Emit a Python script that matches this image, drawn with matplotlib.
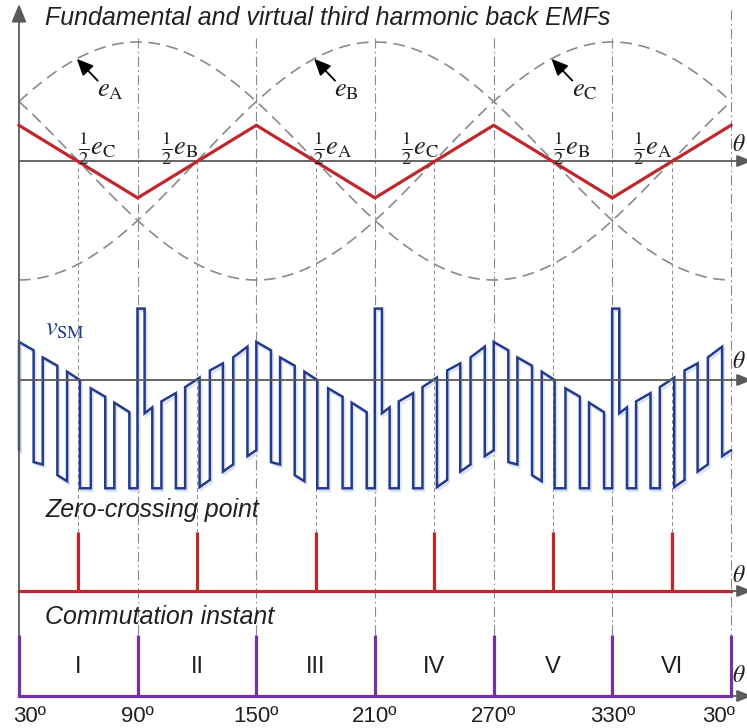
import numpy as np
import matplotlib
matplotlib.use('Agg')
import matplotlib.pyplot as plt
import matplotlib.patheffects as pe

plt.rcParams['mathtext.fontset'] = 'stix'
plt.rcParams['font.family'] = ['Liberation Sans', 'DejaVu Sans']

# ---------------- data ----------------
angle_ticks = [30, 90, 150, 210, 270, 330, 390]
angle_tick_labels = ['30º', '90º', '150º', '210º', '270º', '330º', '30º']
sector_centers = [60, 120, 180, 240, 300, 360]
sector_labels = ['I', 'II', 'III', 'IV', 'V', 'VI']
zero_crossings = [60, 120, 180, 240, 300, 360]
commutation_angles = [30, 90, 150, 210, 270, 330, 390]

emf_names = ['A', 'B', 'C']
emf_phase = [0, 120, 240]          # electrical degrees
emf_amplitude = 1.0

third_angles = [30, 90, 150, 210, 270, 330, 390]
third_values = [0.30, -0.31, 0.30, -0.31, 0.30, -0.31, 0.30]

half_label_angles = [69.4, 111.4, 188.8, 232.8, 309.6, 350.6]
half_label_phase = ['C', 'B', 'A', 'C', 'B', 'A']

emf_label_angles = [69.5, 189.5, 309.5]
emf_label_values = [0.54, 0.54, 0.54]
emf_arrow_tip = [59.2, 179.2, 299.2]
emf_arrow_tail = [69.8, 189.8, 309.8]
emf_arrow_tail_values = [0.675, 0.675, 0.675]

# v_SM : one 120-degree period (angle from period start, value)
vsm_period_angle = [0, 0, 7.4, 7.4, 12.0, 12.0, 19.4, 19.4, 24.3, 24.3,
                    30.8, 30.8, 36.3, 36.3, 43.6, 43.6, 48.2, 48.2, 55.8, 55.8,
                    59.9, 59.9, 63.5, 63.5, 67.4, 67.4, 72.0, 72.0, 79.3, 79.3,
                    84.0, 84.0, 91.3, 91.3, 96.5, 96.5, 103.1, 103.1, 108.3, 108.3,
                    115.5, 115.5, 120.0]
vsm_period_value = [-0.59, 0.32, 0.25, -0.69, -0.71, 0.19, 0.12, -0.80, -0.85, 0.07,
                    0.00, -0.91, -0.91, -0.07, -0.14, -0.91, -0.91, -0.19, -0.27, -0.91,
                    -0.91, 0.60, 0.60, -0.28, -0.23, -0.91, -0.91, -0.18, -0.11, -0.91,
                    -0.91, -0.06, 0.02, -0.90, -0.84, 0.08, 0.14, -0.77, -0.71, 0.19,
                    0.28, -0.64, -0.59]
vsm_period_start = [30, 150, 270]

pulse_height = 0.50      # zero-crossing pulse
comm_height = 0.51       # commutation pulse

# ---------------- layout ----------------
W, H = 747, 728
fig = plt.figure(figsize=(W / 100, H / 100), dpi=100)
ax = fig.add_axes([0, 0, 1, 1])
X0 = 19
PX_PER_DEG = (731 - 19) / 360


def deg(px):
    return 30 + (px - X0) / PX_PER_DEG


ax.set_xlim(deg(0), deg(W))
ax.set_ylim(H, 0)
ax.axis('off')

SCALE = 119
TOP, MID, ZC, COM = 161, 380, 591, 696


def Y(v, base):
    return base - np.asarray(v, dtype=float) * SCALE


AXIS_GRAY = '#5a5a5a'
REF_GRAY = '#8a8a8a'
RED = '#c0272d'
BLUE = '#243a8d'
PURPLE = '#7232a3'
TXT = '#231f20'


def h_arrow(base):
    ax.annotate('', xy=(deg(752), base), xytext=(30, base),
                arrowprops=dict(arrowstyle='-|>,head_length=0.9,head_width=0.36',
                                mutation_scale=10, color=AXIS_GRAY, lw=1.3,
                                shrinkA=0, shrinkB=0),
                annotation_clip=False, zorder=4)


# vertical axis
ax.annotate('', xy=(30, 4), xytext=(30, COM),
            arrowprops=dict(arrowstyle='-|>,head_length=1.1,head_width=0.45',
                            mutation_scale=10, color=AXIS_GRAY, lw=1.3,
                            shrinkA=0, shrinkB=0),
            annotation_clip=False, zorder=4)

for base in (TOP, MID, ZC, COM):
    h_arrow(base)

# reference lines
for a in commutation_angles[1:]:
    y_start = 10 if a == commutation_angles[-1] else 38
    ax.plot([a, a], [y_start, COM - comm_height * SCALE], color=REF_GRAY, lw=0.8,
            ls=(0, (9, 3, 1.5, 3)), zorder=1)
for a in zero_crossings:
    ax.plot([a, a], [TOP, ZC - pulse_height * SCALE], color=REF_GRAY, lw=0.7,
            ls=(0, (4, 3)), zorder=1)

# ---------------- top panel ----------------
th = np.linspace(30, 390, 1441)
for ph in emf_phase:
    ax.plot(th, Y(emf_amplitude * np.sin(np.radians(th - ph)), TOP),
            color=REF_GRAY, lw=1.2, ls=(0, (7, 4)), zorder=2)

ax.plot(third_angles, Y(third_values, TOP), color=RED, lw=2.3, zorder=5,
        solid_joinstyle='miter')

for name, la, lv, tip, tail, tv in zip(emf_names, emf_label_angles, emf_label_values,
                                      emf_arrow_tip, emf_arrow_tail, emf_arrow_tail_values):
    ph = emf_phase[emf_names.index(name)]
    tip_v = emf_amplitude * np.sin(np.radians(tip - ph))
    ax.annotate('', xy=(tip, Y(tip_v, TOP)), xytext=(tail, Y(tv, TOP)),
                arrowprops=dict(arrowstyle='-|>,head_length=1.0,head_width=0.45',
                                mutation_scale=10, color='black', lw=1.3,
                                shrinkA=0, shrinkB=0), zorder=6)
    ax.text(la, Y(lv, TOP), r'$e_{\mathrm{%s}}$' % name, fontsize=19,
            ha='left', va='baseline', color=TXT, zorder=6)

for a, p in zip(half_label_angles, half_label_phase):
    ax.text(a, TOP - 6, r'$\frac{1}{2}e_{\mathrm{%s}}$' % p, fontsize=19,
            ha='center', va='baseline', color=TXT, zorder=6)

ax.text(deg(45), 25, 'Fundamental and virtual third harmonic back EMFs',
        fontsize=18, style='italic', ha='left', va='baseline', color=TXT)

# ---------------- v_SM panel ----------------
ang, val = [], []
for s in vsm_period_start:
    ang += [s + a for a in vsm_period_angle]
    val += vsm_period_value
ax.plot(ang, Y(val, MID), color=BLUE, lw=1.8, solid_joinstyle='miter', zorder=3,
        path_effects=[pe.SimpleLineShadow(offset=(1.2, -1.8), shadow_color='#b3c8ea',
                                          alpha=0.5), pe.Normal()])
ax.text(deg(45), 335, r'$v_{\mathrm{SM}}$', fontsize=19, color=BLUE,
        ha='left', va='baseline')

# ---------------- zero-crossing panel ----------------
ax.text(deg(45), 517, 'Zero-crossing point', fontsize=18, style='italic',
        ha='left', va='baseline', color=TXT)
ax.plot([30, 390], [ZC, ZC], color=RED, lw=2.3, zorder=5, solid_capstyle='projecting')
for a in zero_crossings:
    ax.plot([a, a], [ZC, ZC - pulse_height * SCALE], color=RED, lw=2.3, zorder=5,
            solid_capstyle='butt')

# ---------------- commutation panel ----------------
ax.text(deg(45), 624, 'Commutation instant', fontsize=18, style='italic',
        ha='left', va='baseline', color=TXT)
ax.plot([30, 390], [COM, COM], color=PURPLE, lw=2.3, zorder=5, solid_capstyle='projecting')
for a in commutation_angles:
    ax.plot([a, a], [COM, COM - comm_height * SCALE], color=PURPLE, lw=2.3, zorder=5,
            solid_capstyle='butt')
for a, lab in zip(sector_centers, sector_labels):
    ax.text(a, 673, lab, fontsize=17, ha='center', va='baseline', color=TXT)

for i, (a, lab) in enumerate(zip(angle_ticks, angle_tick_labels)):
    x = a
    ha = 'center'
    if i == 0:
        x, ha = deg(13), 'left'
    elif i == len(angle_ticks) - 1:
        x, ha = deg(735), 'right'
    ax.text(x, 721.5, lab, fontsize=16, ha=ha, va='baseline', color=TXT)

# theta labels (kept fully inside the canvas)
for yc in (145, 362, 576, 676):
    ax.text(deg(746), yc, r'$\theta$', fontsize=17, ha='right', va='center',
            color=TXT)

fig.savefig('out.png', dpi=100, facecolor='white')
